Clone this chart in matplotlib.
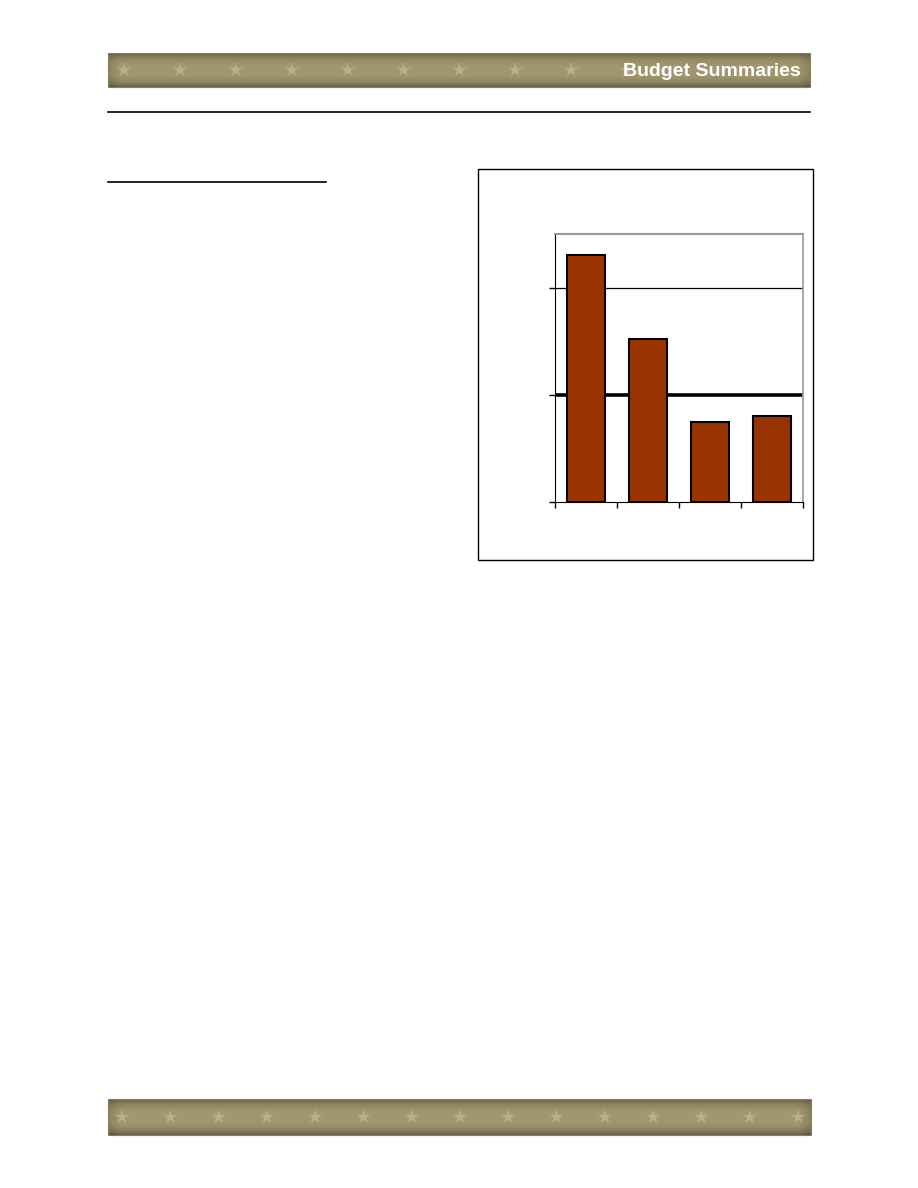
import numpy as np
import matplotlib
matplotlib.use('Agg')
import matplotlib.pyplot as plt
from matplotlib.patches import Rectangle

# chart values (no labels printed on the page)
categories = ['A', 'B', 'C', 'D']
values = [2.30, 1.52, 0.75, 0.80]
ref_value = 1.0
grid_values = [2.0]
y_ticks = [0, 1, 2]
title_text = 'Budget Summaries'

W, H = 918, 1188
fig = plt.figure(figsize=(W / 100, H / 100), dpi=100)

# page decoration axes in pixel coords
page = fig.add_axes([0, 0, 1, 1])
page.set_xlim(0, W)
page.set_ylim(H, 0)
page.axis('off')


def banner(ax, x0, x1, y0, y1, star_xs):
	ny = 40
	t = np.linspace(-1, 1, ny)
	prof = 1 - 0.35 * np.abs(t) ** 3
	nx = 200
	s = np.linspace(-1, 1, nx)
	hprof = 1 - 0.12 * np.clip((np.abs(s) - 0.97) / 0.03, 0, 1)
	base = np.array([163, 151, 112]) / 255.0
	img = prof[:, None, None] * hprof[None, :, None] * base[None, None, :]
	ax.imshow(np.clip(img, 0, 1), extent=[x0, x1, y1, y0], aspect='auto', zorder=1)
	ax.add_patch(Rectangle((x0, y0), x1 - x0, y1 - y0, fill=False,
		edgecolor='#8a7f5c', lw=0.8, zorder=2))
	yc = (y0 + y1) / 2
	ax.scatter(star_xs, [yc] * len(star_xs), marker='*', s=150,
		color='#bdb08a', alpha=0.45, edgecolors='none', zorder=3)
	ax.scatter(star_xs, [yc] * len(star_xs), marker='*', s=80,
		color='#c9bd98', alpha=0.5, edgecolors='none', zorder=3)


banner(page, 108, 810, 53, 87, np.linspace(124, 627, 10))
page.text(801, 71, title_text, color='white', fontsize=14, fontweight='bold',
	family=['Liberation Sans Narrow', 'Liberation Sans', 'DejaVu Sans'],
	ha='right', va='center', zorder=4)
banner(page, 108, 811, 1099, 1135, np.linspace(122, 798, 15))

page.plot([108, 810], [112, 112], color='black', lw=1.2)
page.plot([108, 326], [182, 182], color='black', lw=1.2)

# chart frame
page.add_patch(Rectangle((478, 169), 335, 391, fill=False, edgecolor='black', lw=1.0))

# chart axes
ax = fig.add_axes([555 / W, (H - 502) / H, (803 - 555) / W, (502 - 234) / H])
x = np.arange(len(categories))
ax.bar(x, values, width=0.6, color='#993300', edgecolor='black', lw=1.5, zorder=3)
for g in grid_values:
	ax.axhline(g, color='black', lw=0.9, zorder=1)
ax.axhline(ref_value, color='black', lw=2.6, zorder=2)
ax.set_xlim(-0.5, len(categories) - 0.5)
ax.set_ylim(0, 2.5)
ax.set_xticks(np.arange(len(categories) + 1) - 0.5)
ax.set_xticklabels([])
ax.set_yticks(y_ticks)
ax.set_yticklabels([])
ax.tick_params(axis='x', direction='out', length=4, width=1)
ax.tick_params(axis='y', direction='out', length=4, width=1)
ax.spines['top'].set_color('#999999')
ax.spines['right'].set_color('#999999')
ax.spines['top'].set_linewidth(1.5)
ax.spines['right'].set_linewidth(1.2)
ax.spines['left'].set_color('black')
ax.spines['bottom'].set_color('black')

fig.savefig('out.png', dpi=100)
